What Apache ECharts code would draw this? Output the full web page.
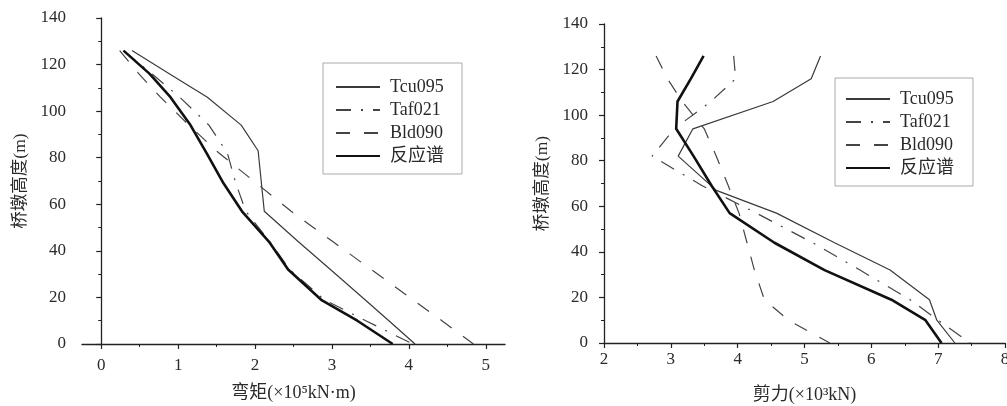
<!DOCTYPE html>
<html>
<head>
<meta charset="utf-8">
<script src="https://cdn.jsdelivr.net/npm/echarts@6/dist/echarts.min.js"></script>
<style>
  html, body { margin: 0; padding: 0; background: #fff; }
  #chart { width: 1007px; height: 406px; }
</style>
</head>
<body>
<div id="chart"></div>
<script>
// ---- Bending moment along the pier (x 10^5 kN·m) ----
const momentHeights      = [126, 116, 106, 94, 82, 69, 57, 44, 32, 19, 10, 0];
const momentHeightsTcu   = [126, 116, 106, 94, 83, 57, 44, 32, 19, 10, 0];
const momentTcu095       = [0.40, 0.89, 1.38, 1.82, 2.04, 2.12, 2.56, 2.98, 3.43, 3.74, 4.08];
const momentTaf021       = [0.29, 0.66, 1.02, 1.40, 1.64, 1.75, 1.88, 2.19, 2.45, 2.90, 3.44, 4.05];
const momentBld090       = [0.24, 0.49, 0.77, 1.14, 1.53, 2.02, 2.47, 3.01, 3.51, 4.05, 4.43, 4.84];
const momentSpectrum     = [0.29, 0.63, 0.90, 1.16, 1.37, 1.59, 1.83, 2.18, 2.43, 2.86, 3.33, 3.79];

// ---- Shear force along the pier (x 10^3 kN) ----
const shearHeights       = [126, 116, 106, 94, 82, 69, 57, 44, 32, 19, 10, 0];
const shearHeightsTcu    = [126, 116, 106, 94, 82, 67, 57, 44, 32, 19, 10, 0];
const shearTcu095        = [5.24, 5.10, 4.53, 3.33, 3.11, 3.68, 4.58, 5.45, 6.28, 6.87, 6.98, 7.25];
const shearTaf021        = [3.94, 3.97, 3.60, 3.05, 2.72, 3.47, 4.28, 5.12, 5.83, 6.58, 7.00, 7.48];
const shearBld090        = [2.78, 2.95, 3.17, 3.50, 3.68, 3.86, 4.02, 4.14, 4.25, 4.40, 4.76, 5.38];
const shearSpectrum      = [3.49, 3.30, 3.10, 3.08, 3.34, 3.61, 3.88, 4.55, 5.30, 6.30, 6.81, 7.05];

// axis ticks
const momentTicks        = [0, 1, 2, 3, 4, 5];
const momentMinorTicks   = [0.5, 1.5, 2.5, 3.5, 4.5];
const shearTicks         = [2, 3, 4, 5, 6, 7, 8];

const seriesNames = ['Tcu095', 'Taf021', 'Bld090', '反应谱'];

const FONT = "'Liberation Serif', 'Noto Sans CJK SC', serif";
const AXIS_COLOR = '#222';
const TEXT_COLOR = '#2a2a2a';

function pairs(values, heights) {
  return values.map((v, i) => [v, heights[i]]);
}

const styles = {
  'Tcu095': { color: '#3a3a3a', width: 1.2, type: 'solid' },
  'Taf021': { color: '#444', width: 1.2, type: [15, 10, 2, 10] },
  'Bld090': { color: '#444', width: 1.2, type: [14, 14] },
  '反应谱': { color: '#111', width: 2.6, type: 'solid' }
};

function lineSeries(name, data, xIdx, yIdx) {
  const s = styles[name];
  return {
    type: 'line', name, data,
    xAxisIndex: xIdx, yAxisIndex: yIdx,
    symbol: 'none', showSymbol: false,
    lineStyle: { color: s.color, width: s.width, type: s.type },
    itemStyle: { color: s.color, opacity: 0 },
    z: name === '反应谱' ? 4 : 3
  };
}

function heightAxis(gridIndex) {
  return {
    gridIndex, type: 'value', min: 0, max: 140, interval: 20,
    axisLine: { show: true, lineStyle: { color: AXIS_COLOR, width: 1.3 } },
    axisTick: { show: true, length: 5, lineStyle: { color: AXIS_COLOR, width: 1.2 } },
    minorTick: { show: true, splitNumber: 2, length: 3, lineStyle: { color: AXIS_COLOR, width: 1 } },
    splitLine: { show: false },
    axisLabel: { margin: 16, fontSize: 17, fontFamily: FONT, color: TEXT_COLOR },
    name: '桥墩高度(m)', nameLocation: 'middle', nameGap: 53, nameRotate: 90,
    nameTextStyle: { fontSize: 17.5, fontFamily: FONT, color: TEXT_COLOR }
  };
}

function legend(left, top, padding) {
  return {
    data: seriesNames, orient: 'vertical', left, top,
    padding, itemGap: 5, itemWidth: 44, itemHeight: 14,
    backgroundColor: '#fff', borderColor: '#aaa', borderWidth: 1,
    selectedMode: false,
    itemStyle: { opacity: 0 },
    textStyle: { fontSize: 18, fontFamily: FONT, color: TEXT_COLOR, padding: [0, 0, 0, 5] }
  };
}

const chart = echarts.init(document.getElementById('chart'), null, { renderer: 'canvas' });

chart.setOption({
  animation: false,
  backgroundColor: '#fff',
  grid: [
    { left: 82, top: 18, width: 423, height: 326, containLabel: false, outerBoundsMode: 'none' },
    { left: 604, top: 24, width: 401, height: 319, containLabel: false, outerBoundsMode: 'none' }
  ],
  xAxis: [
    {
      gridIndex: 0, type: 'value', min: -0.25, max: 5.25, position: 'bottom',
      axisLine: { show: true, onZero: false, lineStyle: { color: AXIS_COLOR, width: 1.3 } },
      axisTick: { show: true, customValues: momentTicks, length: 5, lineStyle: { color: AXIS_COLOR, width: 1.2 } },
      axisLabel: { customValues: momentTicks, margin: 13, fontSize: 17, fontFamily: FONT, color: TEXT_COLOR },
      splitLine: { show: false },
      name: '弯矩(×10⁵kN·m)', nameLocation: 'middle', nameGap: 40,
      nameTextStyle: { fontSize: 18, fontFamily: FONT, color: TEXT_COLOR }
    },
    {
      gridIndex: 0, type: 'value', min: -0.25, max: 5.25, position: 'bottom',
      axisLine: { show: false },
      axisTick: { show: true, customValues: momentMinorTicks, length: 3, lineStyle: { color: AXIS_COLOR, width: 1 } },
      axisLabel: { show: false },
      splitLine: { show: false }
    },
    {
      gridIndex: 1, type: 'value', min: 2, max: 8, interval: 1, position: 'bottom',
      axisLine: { show: true, onZero: false, lineStyle: { color: AXIS_COLOR, width: 1.3 } },
      axisTick: { show: true, length: 5, lineStyle: { color: AXIS_COLOR, width: 1.2 } },
      minorTick: { show: true, splitNumber: 2, length: 3, lineStyle: { color: AXIS_COLOR, width: 1 } },
      axisLabel: { customValues: shearTicks, margin: 8, fontSize: 17, fontFamily: FONT, color: TEXT_COLOR },
      splitLine: { show: false },
      name: '剪力(×10³kN)', nameLocation: 'middle', nameGap: 43,
      nameTextStyle: { fontSize: 18, fontFamily: FONT, color: TEXT_COLOR }
    }
  ],
  yAxis: [heightAxis(0), heightAxis(1)],
  legend: [
    legend(323, 63, [15, 18, 9, 12]),
    legend(835, 78, [12, 19, 9, 10])
  ],
  series: [
    lineSeries('Tcu095', pairs(momentTcu095, momentHeightsTcu), 0, 0),
    lineSeries('Taf021', pairs(momentTaf021, momentHeights), 0, 0),
    lineSeries('Bld090', pairs(momentBld090, momentHeights), 0, 0),
    lineSeries('反应谱', pairs(momentSpectrum, momentHeights), 0, 0),
    lineSeries('Tcu095', pairs(shearTcu095, shearHeightsTcu), 2, 1),
    lineSeries('Taf021', pairs(shearTaf021, shearHeights), 2, 1),
    lineSeries('Bld090', pairs(shearBld090, shearHeights), 2, 1),
    lineSeries('反应谱', pairs(shearSpectrum, shearHeights), 2, 1)
  ]
});
</script>
</body>
</html>
